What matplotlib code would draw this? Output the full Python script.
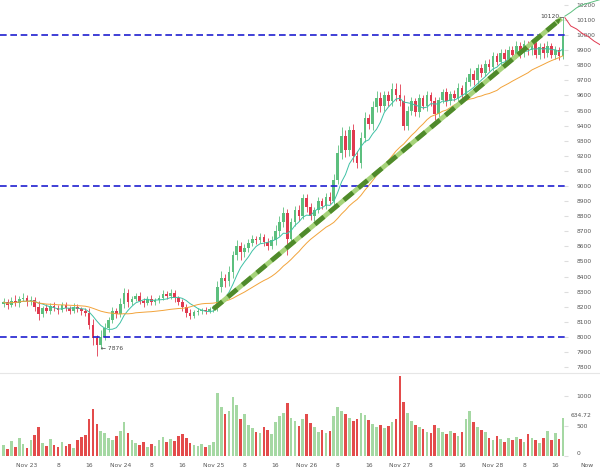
import numpy as np
import pandas as pd
import matplotlib.pyplot as plt
from matplotlib.lines import Line2D

# hourly candles, first one at Nov 22 18:00 (hour -6 from Nov 23 00:00)
closes = [8230, 8215, 8240, 8225, 8250, 8260, 8235, 8245,
          8200, 8150, 8190, 8175, 8205, 8195, 8180, 8210,
          8190, 8175, 8200, 8185, 8170, 8160,
          8080, 7990, 7950, 8000, 8060,
          8110, 8170, 8150, 8220, 8290, 8230, 8250,
          8270, 8240, 8225, 8250, 8230, 8245, 8260, 8285, 8270,
          8290, 8255, 8230, 8200,
          8160, 8140, 8165, 8170, 8180, 8175, 8185, 8190,
          8330, 8390, 8370, 8430, 8540, 8600, 8560, 8590,
          8620, 8650, 8640, 8660, 8630, 8600, 8640, 8700,
          8760, 8820, 8650, 8760, 8840, 8800, 8920, 8860, 8800, 8840, 8900, 8870, 8930, 8900, 9040,
          9220, 9330, 9240, 9370, 9200, 9150, 9320, 9450, 9410, 9520, 9580, 9530, 9600, 9560, 9640, 9600,
          9560, 9400, 9500, 9560, 9490, 9580, 9530, 9600,
          9560, 9480, 9570, 9620, 9560, 9610, 9580, 9650, 9600,
          9690, 9740, 9700, 9780, 9750, 9810,
          9790, 9860, 9820, 9880, 9840, 9900, 9870,
          9930, 9880, 9940, 9900, 9950, 9870, 9920,
          9880, 9930, 9870, 9900, 9860, 9995]
first_open = 8220

wick_up = [30, 20, 25, 40, 20, 30, 15, 25,
           20, 35, 15, 30, 20, 25, 15, 20,
           20, 15, 25, 20, 15, 20,
           30, 40, 20, 45, 30,
           25, 30, 20, 40, 35, 30, 20,
           20, 25, 15, 20, 30, 15, 20, 25, 20,
           30, 20, 15, 20,
           20, 25, 15, 20, 15, 20, 15, 20,
           40, 50, 30, 40, 30, 40, 30, 25,
           30, 25, 20, 30, 20, 25, 30, 40,
           40, 40, 30, 30, 30, 35, 30, 25, 30, 20, 25, 20, 25, 30, 40,
           50, 60, 40, 30, 40, 30, 40, 40, 30, 40, 50, 40, 30, 30, 40, 40,
           75, 40, 30, 30, 25, 30, 25, 30,
           25, 30, 20, 25, 30, 20, 25, 30, 20,
           30, 40, 30, 25, 30, 25,
           30, 25, 20, 30, 25, 30, 25,
           30, 25, 30, 20, 25, 20, 30,
           25, 30, 20, 25, 20, 125]

wick_dn = [20, 30, 15, 20, 25, 15, 30, 20,
           25, 40, 20, 15, 20, 25, 30, 15,
           20, 25, 15, 20, 25, 20,
           30, 40, 74, 30, 20,
           30, 20, 25, 20, 25, 30, 20,
           15, 20, 25, 15, 20, 15, 20, 15, 20,
           20, 25, 20, 30,
           25, 20, 15, 20, 15, 20, 15, 20,
           20, 30, 40, 30, 40, 30, 50, 30,
           30, 20, 25, 20, 30, 25, 20, 30,
           30, 30, 110, 30, 25, 30, 20, 30, 25, 30, 20, 25, 20, 20, 30,
           30, 40, 50, 40, 40, 30, 30, 30, 30, 40, 30, 40, 30, 30, 30, 40,
           30, 30, 30, 30, 25, 30, 20, 30,
           30, 40, 25, 20, 30, 25, 20, 30, 25,
           30, 25, 30, 25, 30, 20,
           25, 30, 20, 30, 25, 20, 30,
           25, 30, 25, 30, 35, 25, 30,
           30, 25, 20, 30, 25, 20]

volumes = [180, 120, 250, 150, 300, 200, 140, 260,
           350, 480, 220, 160, 280, 190, 150, 230,
           170, 200, 140, 260, 310, 350,
           620, 780, 540, 420, 380,
           300, 260, 340, 420, 560, 380, 260,
           220, 180, 240, 150, 200, 170, 260, 310, 230,
           280, 250, 330, 360,
           300, 220, 180, 160, 200, 150, 190, 240,
           1050, 820, 700, 760, 980, 860, 620, 700,
           520, 460, 400, 380, 480, 430, 360, 560,
           660, 720, 880, 640, 580, 500, 620, 700, 550, 480, 400, 440, 380, 420, 660,
           820, 760, 700, 640, 580, 620, 720, 680, 600, 540, 480, 520, 460, 500, 560, 620,
           1330, 900, 720, 580, 520, 480, 450, 400,
           380, 520, 460, 400, 360, 420, 380, 340, 400,
           620, 760, 560, 480, 440, 400,
           300, 260, 340, 280, 240, 300, 260,
           320, 280, 240, 360, 300, 260, 220,
           300, 420, 260, 380, 280, 634.72]

levels = [8000, 9000, 10000]
trend_h = [48, 137.6]
trend_p = [8185, 10110]
proj_up_h = [138.5, 140, 141.5, 143, 145, 147.6]
proj_up_p = [10125, 10150, 10180, 10200, 10215, 10235]
proj_dn_h = [138.5, 140, 141.5, 143, 144.5, 146, 147.6]
proj_dn_p = [10115, 10060, 10040, 10010, 9990, 9960, 9935]

tick_h = list(range(0, 137, 8))
tick_lbl = ['Nov 23', '8', '16', 'Nov 24', '8', '16', 'Nov 25', '8', '16',
            'Nov 26', '8', '16', 'Nov 27', '8', '16', 'Nov 28', '8', '16']

hours = np.arange(len(closes)) - 6
c = np.array(closes, float)
o = np.concatenate([[first_open], c[:-1]])
hi = np.maximum(o, c) + np.array(wick_up)
lo = np.minimum(o, c) - np.array(wick_dn)
up = c >= o

GREEN = '#5cbf7e'
RED = '#e0394f'

fig = plt.figure(figsize=(6, 4.69), dpi=100)
ax = fig.add_axes([0, 1 - 372 / 469, 568 / 600, 372 / 469])
axv = fig.add_axes([0, 1 - 456 / 469, 568 / 600, 82 / 469], sharex=ax)

cols = np.where(up, GREEN, RED)
ax.vlines(hours, lo, hi, colors=cols, lw=0.6, zorder=3)
ax.bar(hours, np.maximum(np.abs(c - o), 4), bottom=np.minimum(o, c),
       width=0.68, color=cols, zorder=4, linewidth=0)

s = pd.Series(c)
ax.plot(hours, s.rolling(7, min_periods=1).mean(), color='#3fc1a5', lw=0.7, zorder=5)
ax.plot(hours, s.rolling(25, min_periods=1).mean(), color='#f2a33a', lw=0.7, zorder=5)

for lv in levels:
    ax.axhline(lv, color='#1f1fcf', lw=1.2, ls=(0, (4, 2.2)), zorder=6)

ax.plot(trend_h, trend_p, color='#a6d37a', lw=3.4, zorder=7, solid_capstyle='butt')
ax.plot(trend_h, trend_p, color='#4f8a2b', lw=3.4, ls=(0, (2.5, 1.5)), zorder=8)
ax.annotate('', xy=(trend_h[1] + 0.4, trend_p[1] + 12), xytext=(trend_h[1] - 3, trend_p[1] - 65),
            arrowprops=dict(arrowstyle='-|>', color='#4f8a2b', lw=0, mutation_scale=10), zorder=9)

ax.plot(proj_up_h, proj_up_p, color='#5cbf7e', lw=0.7, clip_on=False, zorder=9)
ax.plot(proj_dn_h, proj_dn_p, color='#e0394f', lw=0.7, clip_on=False, zorder=9)

ih = int(np.argmax(hi))
ax.plot([hours[ih] - 0.8, hours[ih]], [hi[ih], hi[ih]], color='#444', lw=0.5, zorder=9)
ax.text(hours[ih] - 1.0, hi[ih] + 5, '%d' % hi[ih], ha='right', va='center', fontsize=4.3, color='#444')
il = int(np.argmin(lo))
ax.text(hours[il] + 1.0, lo[il] + 45, '← %d' % lo[il], ha='left', va='center', fontsize=4.3, color='#444')

ax.set_ylim(7768, 10232)
ax.set_xlim(-6.95, 139.3)
ax.yaxis.tick_right()
ax.set_yticks(range(7800, 10201, 100))
ax.tick_params(axis='y', labelsize=4.3, labelcolor='#555', length=3, color='#dddddd',
               direction='in', pad=6)
ax.tick_params(axis='x', bottom=False, labelbottom=False)
for sp in ax.spines.values():
    sp.set_visible(False)

vcols = np.where(up, '#a5d8a3', '#e34b4b')
axv.bar(hours, volumes, width=0.68, color=vcols, linewidth=0)
axv.set_ylim(0, 1370)
axv.yaxis.tick_right()
axv.set_yticks([0, 500, 1000])
axv.tick_params(axis='y', labelsize=4.3, labelcolor='#555', length=3, color='#dddddd',
                direction='in', pad=6)
axv.get_yticklabels()[0].set_va('bottom')
axv.set_xticks(tick_h)
axv.set_xticklabels(tick_lbl)
axv.tick_params(axis='x', labelsize=4.3, labelcolor='#555', length=0, pad=5)
for sp in axv.spines.values():
    sp.set_visible(False)
axv.text(144.2, -0.12, 'Now', transform=axv.get_xaxis_transform(), fontsize=4.3, color='#555',
         ha='center', va='center')
axv.annotate('%.2f' % volumes[-1], xy=(hours[-1] + 0.6, volumes[-1]),
             xytext=(hours[-1] + 2.0, volumes[-1] + 40), fontsize=4.3, color='#555', va='center',
             annotation_clip=False)

fig.add_artist(Line2D([0, 1], [1 - 373 / 469, 1 - 373 / 469], color='#e6e6e6', lw=0.8))

fig.savefig('out.png', dpi=100, facecolor='white')
